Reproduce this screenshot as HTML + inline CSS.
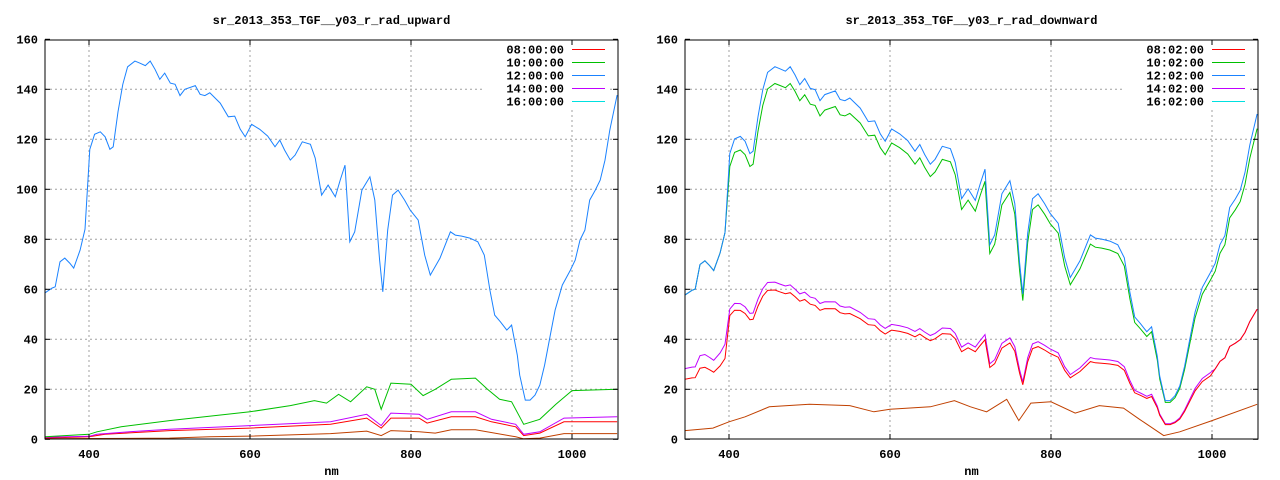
<!DOCTYPE html>
<html><head><meta charset="utf-8"><style>
html,body{margin:0;padding:0;background:#fff;}
svg{display:block;}
text{font-family:"Liberation Mono",monospace;font-weight:bold;font-size:12px;fill:#000;}
</style></head><body>
<svg id="s" width="1280" height="480" viewBox="0 0 1280 480" xmlns="http://www.w3.org/2000/svg"></svg>
<script>
var S=document.getElementById('s');var out='';
function X(nm,off){return off+89+(nm-400)*0.805;}
function Y(v){return 439.3-v*2.5;}
var blueL=[[345,58.5],[354,60.5],[358,61],[364,71],[370,72.5],[376,70.5],[381,68.5],[389,75.7],[395,84],[401,116],[407,122],[414,123],[420,121],[426,116],[430,117],[436,131],[442,142],[448,149],[457,151.3],[463,150.5],[470,149.5],[476,151.3],[482,148],[488,144],[494,146.5],[501,142.5],[507,142],[513,137.5],[519,140],[532,141.5],[538,138],[544,137.5],[550,138.6],[563,134.5],[573,129],[581,129.3],[588,124],[594,121],[602,126],[612,124],[622,121.3],[631,117],[637,119.7],[643,115.7],[650,111.7],[656,113.7],[665,119],[675,118],[681,112.5],[689,97.7],[697,101.7],[706,97],[712,103.7],[718,109.7],[724,79],[730,83],[739,99.7],[749,105],[755,95.7],[761,71.7],[765,59],[771,83.7],[777,97.7],[784,99.7],[792,95.7],[799,91.7],[809,87.7],[817,73.7],[824,65.7],[836,72.5],[849,83],[855,81.7],[863,81.3],[873,80.5],[883,79],[891,73.7],[898,59.7],[904,49.7],[911,47],[919,43.7],[925,45.7],[932,33.7],[935,25.7],[942,15.7],[948,15.7],[954,17.7],[960,21.7],[966,29.7],[973,41.7],[979,51.7],[988,61.7],[998,67.7],[1004,71.7],[1010,79.7],[1016,83.7],[1022,95.7],[1029,99.7],[1035,103.7],[1041,111.7],[1047,123.7],[1056,137.7]];
var greenL=[[345,1],[400,2],[410,3],[440,5],[500,7.5],[600,11],[650,13.5],[680,15.5],[695,14.5],[710,18],[725,15],[745,21],[755,20],[763,12],[775,22.5],[800,22],[815,17.5],[830,20],[850,24],[880,24.5],[895,20],[910,16],[925,15],[940,6],[960,8],[980,14],[1000,19.5],[1056,20]];
var magL=[[345,0.8],[400,1.2],[410,2],[450,3],[500,4],[600,5.5],[700,7],[745,10],[763,5.5],[775,10.5],[810,10],[820,8],[850,11],[880,11],[900,8],[930,6],[940,2],[960,3],[990,8.5],[1056,9]];
var redL=[[345,0.5],[400,1],[420,2],[500,3.5],[600,4.5],[700,6],[745,8.5],[763,4.5],[775,8.5],[810,8.5],[820,6.5],[850,9],[880,9],[900,7],[930,5],[940,1.5],[960,2.5],[990,7],[1056,7]];
var brnL=[[345,0.2],[500,0.5],[550,1],[600,1.3],[700,2.3],[745,3.3],[763,1.5],[775,3.5],[810,3],[830,2.5],[850,3.8],[880,3.8],[930,1],[940,0.2],[960,0.5],[990,2.3],[1056,2.3]];
function ratio(nm){if(nm<460)return 0.49-(nm-345)/115*0.07;if(nm<600)return 0.42-(nm-460)/140*0.05;if(nm<800)return 0.37+(nm-600)/200*0.03;return 0.4;}
var blueR=blueL.map(function(p){var k=p[0]>1000?0.985-(p[0]-1000)/56*0.04:0.985;return [p[0],p[1]*k];});
var greenR=blueR.map(function(p){var k=p[0]<400?1:(p[0]>1000?0.955:0.955);return [p[0],p[1]*k];});
var magR=blueR.map(function(p){return [p[0],p[1]*ratio(p[0])];});
var redR=magR.map(function(p){var k=p[0]<400?0.85:(p[0]>1000?1:0.95);return [p[0],p[1]*k];});
var brnR=[[345,3.5],[380,4.5],[400,7],[420,9],[450,13],[500,14],[550,13.5],[580,11],[600,12],[650,13],[680,15.5],[700,13],[720,11],[745,16],[760,7.5],[775,14.5],[800,15],[830,10.5],[860,13.5],[890,12.5],[910,8],[940,1.5],[960,3],[1000,7.5],[1056,14]];
function line(d,off,c){var s='';d.forEach(function(p){s+=X(p[0],off).toFixed(1)+','+Y(p[1]).toFixed(1)+' ';});out+='<polyline points="'+s+'" fill="none" stroke="'+c+'" stroke-width="1"/>';}
function panel(off,title,lab,series){
 var L=45+off,R=618+off,T=40,B=439;
 out+='<g clip-path="url(#c'+off+')">';
 [400,600,800,1000].forEach(function(n){var x=X(n,off);out+='<line x1="'+x+'" y1="'+T+'" x2="'+x+'" y2="'+B+'" stroke="#a0a0a0" stroke-dasharray="2,3"/>';});
 for(var v=20;v<160;v+=20){out+='<line x1="'+L+'" y1="'+Y(v)+'" x2="'+R+'" y2="'+Y(v)+'" stroke="#a0a0a0" stroke-dasharray="2,3"/>';}
 out+='<rect x="'+(L+440)+'" y="'+(T+3)+'" width="125" height="66" fill="#fff"/>';
 series.forEach(function(s){line(s[0],off,s[1]);});
 out+='</g>';
 out+='<defs><clipPath id="c'+off+'"><rect x="'+L+'" y="'+T+'" width="'+(R-L)+'" height="'+(B-T)+'"/></clipPath></defs>';
 out+='<rect x="'+L+'" y="'+T+'" width="'+(R-L)+'" height="'+(B-T)+'" fill="none" stroke="#000" stroke-width="1"/>';
 for(var v=0;v<=160;v+=20){out+='<text x="'+(L-7)+'" y="'+(Y(v)+4)+'" text-anchor="end">'+v+'</text>';out+='<line x1="'+L+'" y1="'+Y(v)+'" x2="'+(L+5)+'" y2="'+Y(v)+'" stroke="#000"/><line x1="'+(R-5)+'" y1="'+Y(v)+'" x2="'+R+'" y2="'+Y(v)+'" stroke="#000"/>';}
 [400,600,800,1000].forEach(function(n){var x=X(n,off);out+='<text x="'+x+'" y="458" text-anchor="middle">'+n+'</text><line x1="'+x+'" y1="'+B+'" x2="'+x+'" y2="'+(B-5)+'" stroke="#000"/><line x1="'+x+'" y1="'+T+'" x2="'+x+'" y2="'+(T+5)+'" stroke="#000"/>';});
 out+='<text x="'+((L+R)/2)+'" y="475" text-anchor="middle">nm</text>';
 out+='<text x="'+((L+R)/2)+'" y="24" text-anchor="middle">'+title+'</text>';
 var cols=['#ff0000','#00c000','#1a82ff','#c000ff','#00e0e0'];
 lab.forEach(function(t,i){var y=49.5+i*13;out+='<text x="'+(564+off)+'" y="'+(y+4)+'" text-anchor="end">'+t+'</text><line x1="'+(572+off)+'" y1="'+y+'" x2="'+(605+off)+'" y2="'+y+'" stroke="'+cols[i]+'"/>';});
}
panel(0,'sr_2013_353_TGF__y03_r_rad_upward',['08:00:00','10:00:00','12:00:00','14:00:00','16:00:00'],[[brnL,'#c04000'],[redL,'#ff0000'],[magL,'#c000ff'],[greenL,'#00c000'],[blueL,'#1a82ff']]);
panel(640,'sr_2013_353_TGF__y03_r_rad_downward',['08:02:00','10:02:00','12:02:00','14:02:00','16:02:00'],[[brnR,'#c04000'],[magR,'#c000ff'],[redR,'#ff0000'],[greenR,'#00c000'],[blueR,'#1a82ff']]);
S.innerHTML=out;
</script>
</body></html>
